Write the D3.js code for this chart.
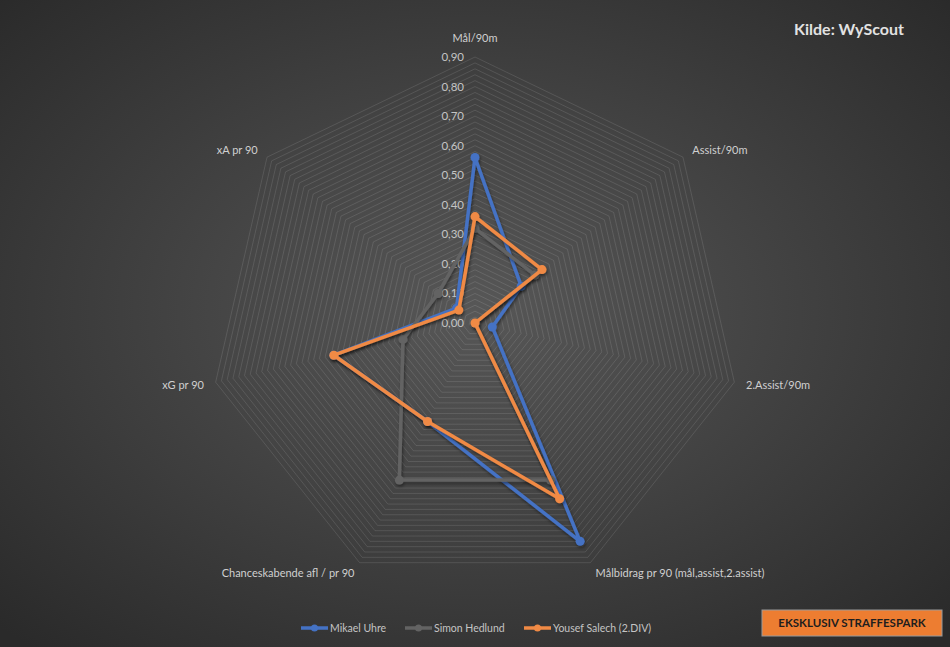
<!DOCTYPE html>
<html>
<head>
<meta charset="utf-8">
<script src="https://cdn.jsdelivr.net/npm/d3@7"></script>
<style>
  body { margin: 0; background: #333; }
  svg { display: block; font-family: "Lato", "Liberation Sans", sans-serif; }
</style>
</head>
<body>
<div id="chart"></div>
<script>
// axes of the radar, clockwise from top
var axes = ["Mål/90m", "Assist/90m", "2.Assist/90m", "Målbidrag pr 90 (mål,assist,2.assist)",
            "Chanceskabende afl / pr 90", "xG pr 90", "xA pr 90"];
var seriesNames = ["Mikael Uhre", "Simon Hedlund", "Yousef Salech (2.DIV)"];
var uhre    = [0.56, 0.20, 0.06, 0.82, 0.37, 0.49, 0.08];
var hedlund = [0.32, 0.26, 0.00, 0.59, 0.59, 0.25, 0.16];
var salech  = [0.36, 0.29, 0.00, 0.66, 0.37, 0.49, 0.07];
var tickValues = [0, 0.1, 0.2, 0.3, 0.4, 0.5, 0.6, 0.7, 0.8, 0.9];

var width = 950, height = 647;
var cx = 475, cy = 323;
var colors = ["#4472C4", "#636363", "#F08A45"];
var allSeries = [uhre, hedlund, salech];

var svg = d3.select("#chart").append("svg")
    .attr("width", width)
    .attr("height", height);

var defs = svg.append("defs");
var grad = defs.append("radialGradient").attr("id", "bg")
    .attr("cx", "50%").attr("cy", "48%").attr("r", "70%");
grad.append("stop").attr("offset", "0%").attr("stop-color", "#575757");
grad.append("stop").attr("offset", "100%").attr("stop-color", "#2a2a2a");

var shadow = defs.append("filter").attr("id", "shadow")
    .attr("x", "-10%").attr("y", "-10%").attr("width", "120%").attr("height", "120%");
shadow.append("feDropShadow").attr("dx", 1).attr("dy", 2)
    .attr("stdDeviation", 1.5).attr("flood-color", "#000").attr("flood-opacity", 0.45);

svg.append("rect").attr("width", width).attr("height", height).attr("fill", "url(#bg)");

var g = svg.append("g").attr("transform", "translate(" + cx + "," + cy + ")");

var r = d3.scaleLinear().domain([0, 0.9]).range([0, 266]);
var angle = d3.scaleLinear().domain([0, axes.length]).range([0, 2 * Math.PI]);

function pt(i, v) {
    var a = angle(i);
    return [r(v) * Math.sin(a), -r(v) * Math.cos(a)];
}

// gridlines every 0.02
var grid = d3.range(1, 46).map(function(k) { return k * 0.02; });
var radial = d3.lineRadial().curve(d3.curveLinearClosed)
    .angle(function(d, i) { return angle(i); })
    .radius(function(d) { return r(d); });

g.append("g").selectAll("path")
    .data(grid)
    .join("path")
    .attr("d", function(v) { return radial(axes.map(function() { return v; })); })
    .attr("fill", "none")
    .attr("stroke", "rgba(255,255,255,0.11)")
    .attr("stroke-width", 1);

// tick labels
g.append("g").selectAll("text")
    .data(tickValues)
    .join("text")
    .attr("x", -11)
    .attr("y", function(v) { return -r(v); })
    .attr("dy", "0.35em")
    .attr("text-anchor", "end")
    .attr("fill", "#c4c4c4")
    .attr("font-size", 11.5)
    .text(function(v) { return d3.format(".2f")(v).replace(".", ","); });

// axis labels
var labelR = r(0.9) + 12;
g.append("g").selectAll("text")
    .data(axes)
    .join("text")
    .attr("x", function(d, i) { return labelR * Math.sin(angle(i)); })
    .attr("y", function(d, i) { var c = Math.cos(angle(i)); return -labelR * c + (c > 0.9 ? -7 : 0); })
    .attr("dy", "0.35em")
    .attr("text-anchor", function(d, i) {
        var s = Math.sin(angle(i));
        return s > 0.1 ? "start" : (s < -0.1 ? "end" : "middle");
    })
    .attr("fill", "#d0d0d0")
    .attr("font-size", 11)
    .text(function(d) { return d; });

// series
var line = d3.line().curve(d3.curveLinearClosed)
    .x(function(d, i) { return pt(i, d)[0]; })
    .y(function(d, i) { return pt(i, d)[1]; });

allSeries.forEach(function(s, k) {
    var sg = g.append("g").attr("filter", "url(#shadow)");
    sg.append("path")
        .datum(s)
        .attr("d", line)
        .attr("fill", "none")
        .attr("stroke", colors[k])
        .attr("stroke-width", 3.5)
        .attr("stroke-linejoin", "round");
    sg.selectAll("circle")
        .data(s)
        .join("circle")
        .attr("cx", function(d, i) { return pt(i, d)[0]; })
        .attr("cy", function(d, i) { return pt(i, d)[1]; })
        .attr("r", 4.5)
        .attr("fill", colors[k]);
});

// legend
var legendX = [301, 405, 524];
var leg = svg.append("g").selectAll("g")
    .data(seriesNames)
    .join("g")
    .attr("transform", function(d, i) { return "translate(" + legendX[i] + ",628)"; });
leg.append("line").attr("x1", 0).attr("x2", 27)
    .attr("stroke", function(d, i) { return colors[i]; }).attr("stroke-width", 3.5);
leg.append("circle").attr("cx", 13.5).attr("r", 3.5)
    .attr("fill", function(d, i) { return colors[i]; });
leg.append("text").attr("x", 29).attr("dy", "0.35em")
    .attr("fill", "#c4c4c4").attr("font-size", 10.5)
    .text(function(d) { return d; });

// source title
svg.append("text")
    .attr("x", 849).attr("y", 29).attr("dy", "0.35em")
    .attr("text-anchor", "middle")
    .attr("fill", "#e2e2e2")
    .attr("font-size", 16)
    .attr("font-weight", "bold")
    .text("Kilde: WyScout");

// exclusive badge
svg.append("rect")
    .attr("x", 762).attr("y", 610).attr("width", 180).attr("height", 26)
    .attr("fill", "#ED7D31")
    .attr("stroke", "#9a9a9a").attr("stroke-width", 1);
svg.append("text")
    .attr("x", 852).attr("y", 623).attr("dy", "0.35em")
    .attr("text-anchor", "middle")
    .attr("fill", "#1e1e1e")
    .attr("font-size", 11.5)
    .attr("font-weight", "bold")
    .text("EKSKLUSIV STRAFFESPARK");
</script>
</body>
</html>
